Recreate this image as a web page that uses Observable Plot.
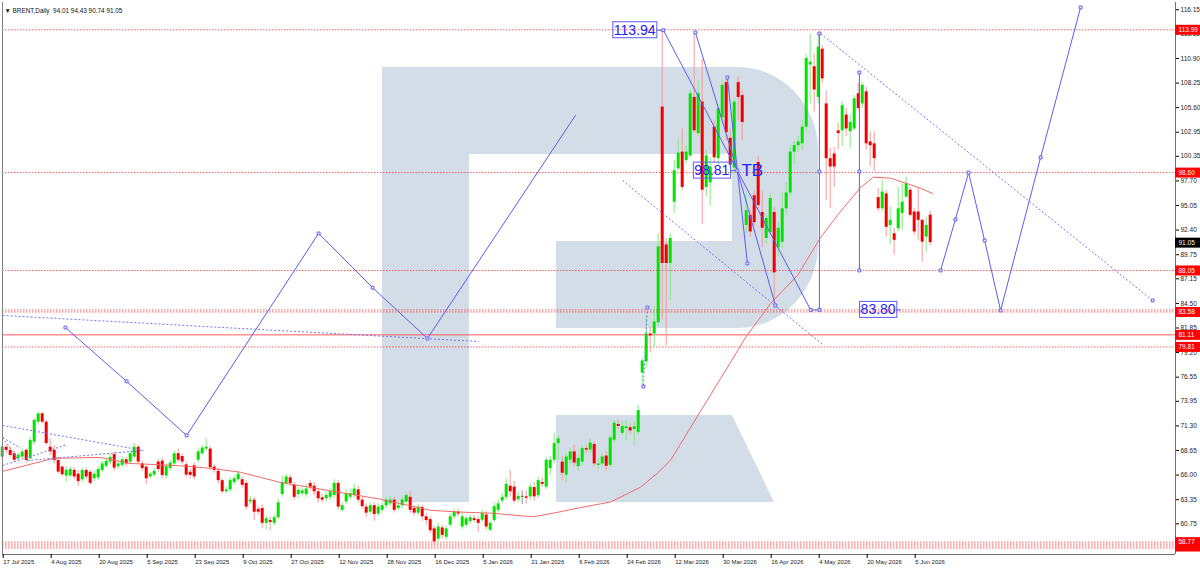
<!DOCTYPE html>
<html>
<head>
<meta charset="utf-8">
<script src="https://cdn.jsdelivr.net/npm/d3@7"></script>
<script src="https://cdn.jsdelivr.net/npm/@observablehq/plot@0.6"></script>
<style>
  body { margin: 0; background: #fff; }
  #chart { width: 1200px; height: 569px; }
</style>
</head>
<body>
<div id="chart"></div>
<script>
// daily bars, index 0 = 17 Jul 2025 ; [open, high, low, close]
const candles = [
  // Jul - Oct 2025
  [67.94,69.3,67.6,69.02],[69.0,69.2,68.3,68.66],[68.66,69.0,67.9,68.12],[68.3,68.6,67.3,67.6],
  [67.76,68.4,67.5,68.12],[67.94,68.8,67.7,68.48],[68.66,68.9,67.3,67.58],[67.76,70.0,67.5,69.73],
  [69.55,72.1,69.2,71.89],[71.7,72.8,71.4,72.6],[72.6,72.8,71.5,71.7],[71.7,71.9,69.2,69.4],
  [69.0,69.9,68.1,68.5],[68.66,69.2,67.2,67.58],[67.58,67.9,66.1,66.32],[66.86,67.0,65.8,66.04],
  [65.9,66.9,65.2,66.5],[65.9,66.9,65.7,66.6],[66.5,66.8,65.5,65.8],[66.1,66.5,64.8,65.3],
  [65.5,66.8,65.2,66.5],[66.5,66.8,65.5,65.8],[66.3,66.5,64.9,65.1],[65.6,66.4,65.3,66.1],
  [65.7,66.9,65.4,66.6],[66.5,67.5,66.2,67.2],[66.95,67.8,66.7,67.5],[67.4,68.3,67.1,67.9],
  [68.2,68.5,66.4,66.75],[66.9,67.5,66.6,67.2],[67.05,68.0,66.8,67.65],[67.65,67.9,66.9,67.2],
  [67.4,68.6,67.1,68.3],[67.94,69.4,67.8,69.0],[69.0,69.2,67.2,67.4],[67.2,67.5,66.4,66.7],
  [66.86,67.0,65.0,65.6],[65.8,66.3,65.6,66.1],[66.0,66.7,65.8,66.4],[67.4,67.7,66.3,66.6],
  [67.5,67.8,65.6,65.96],[65.9,67.2,65.6,66.9],[66.7,67.6,66.4,67.3],[67.2,68.6,67.0,68.3],
  [68.3,68.8,67.3,67.6],[68.0,68.3,67.1,67.4],[67.1,67.4,65.7,66.0],[66.3,66.6,65.6,65.96],
  [67.0,67.3,65.5,65.8],[67.6,68.8,67.3,68.5],[68.3,69.2,68.1,68.9],[68.8,69.9,68.6,69.0],
  [68.8,69.1,66.5,66.8],[66.86,67.1,66.2,66.5],[66.4,66.7,65.0,65.4],[65.4,65.6,64.0,64.2],
  [64.2,64.7,64.0,64.4],[64.4,65.7,64.2,65.4],[65.2,65.9,64.9,65.6],[65.5,66.4,65.3,66.1],
  // Oct - Dec 2025
  [65.5,65.8,64.6,64.9],[65.1,65.4,62.2,62.55],[63.1,63.7,62.8,63.3],[63.3,63.6,61.1,62.0],
  [62.3,62.6,61.7,62.0],[62.4,62.8,60.2,60.8],[60.8,61.6,60.1,61.3],[61.1,61.5,60.0,60.9],
  [60.8,61.7,60.5,61.4],[61.4,63.4,61.2,63.0],[63.9,65.9,63.6,65.2],[65.1,66.1,64.9,65.8],
  [65.7,66.0,64.8,65.1],[64.9,65.2,63.3,63.6],[63.9,64.7,63.5,64.35],[64.0,64.6,63.7,64.3],
  [63.9,65.0,63.6,64.5],[65.1,65.4,64.3,64.7],[64.8,65.2,63.8,64.2],[64.2,64.5,63.0,63.45],
  [63.55,63.9,63.0,63.3],[63.45,64.1,63.1,63.8],[63.6,64.5,63.3,64.2],[63.8,65.5,63.5,65.1],
  [65.1,65.4,62.2,62.55],[62.2,63.0,62.0,62.7],[63.1,64.4,62.8,64.0],[63.6,64.5,63.3,64.0],
  [63.8,65.0,63.5,64.5],[64.4,64.8,63.0,63.3],[63.3,63.6,62.3,62.6],[62.55,62.9,61.4,61.9],
  [62.0,63.0,61.7,62.7],[62.7,63.0,61.0,61.75],[61.8,62.9,61.5,62.55],[62.2,63.0,61.9,62.7],
  [62.7,63.6,62.4,63.3],[62.9,63.7,62.6,63.3],[63.3,63.6,61.9,62.2],[62.4,63.0,62.1,62.7],
  [62.7,63.6,62.4,63.3],[63.1,64.1,62.9,63.8],[63.6,64.2,61.9,62.2],[62.4,62.7,61.6,61.9],
  [61.9,62.9,61.6,62.55],[62.5,62.8,61.0,61.5],[61.5,61.8,60.6,61.1],[61.2,61.5,59.7,60.0],
  [60.2,60.5,58.5,58.8],[59.1,60.8,58.8,60.4],[60.3,60.6,59.1,59.5],[59.3,60.5,59.0,60.2],
  [60.6,61.8,60.3,61.5],[61.5,62.3,61.2,62.0],[62.0,62.3,61.5,61.8],[60.4,62.0,60.1,61.5],
  [60.6,61.6,60.3,61.3],[61.0,61.7,60.7,61.4],[61.3,61.6,60.9,61.1],[61.2,61.5,59.8,60.8],
  // Jan - Feb 2026
  [61.13,62.2,60.9,61.85],[61.7,62.1,60.1,60.4],[60.05,61.0,59.9,60.8],[61.1,63.0,60.9,62.6],
  [62.2,63.3,61.9,62.9],[63.2,64.0,62.9,63.6],[63.6,65.6,63.3,65.0],[64.8,66.5,63.6,64.2],
  [64.7,65.3,62.9,63.2],[63.35,64.2,63.0,63.7],[63.6,64.3,62.8,63.6],[63.65,64.3,62.9,63.5],
  [63.65,65.0,63.3,64.7],[64.65,65.2,63.2,63.65],[63.8,65.8,63.5,65.4],[65.2,65.7,64.7,65.0],
  [64.7,67.9,64.4,67.6],[66.7,68.0,66.0,67.6],[67.6,70.5,67.2,69.4],[69.4,70.2,67.6,69.9],
  [67.4,68.0,65.4,66.2],[66.0,68.3,65.1,67.95],[67.6,68.9,67.2,68.5],[68.5,69.2,66.9,67.3],
  [66.9,68.2,66.4,67.8],[67.4,69.2,67.0,68.85],[68.85,69.2,68.3,68.7],[68.7,69.9,68.3,69.45],
  [69.3,69.6,66.9,67.2],[67.05,67.8,66.6,67.2],[67.2,68.3,66.9,67.95],[68.05,68.5,66.4,66.95],
  [67.05,70.3,66.8,70.0],[69.75,71.9,69.4,71.6],[71.45,71.9,70.9,71.25],[70.5,71.8,70.2,71.25],
  [71.0,71.9,69.7,71.2],[71.1,71.5,70.3,70.75],[70.9,71.7,69.2,71.2],[70.6,73.5,70.3,72.95],
  [77.0,78.6,75.6,78.3],[78.2,83.2,77.5,81.2],[81.2,82.0,79.2,81.0],[81.2,84.2,79.7,82.5],
  // Mar - Jun 2026
  [82.4,92.0,82.0,90.6],[105.66,113.94,82.7,88.8],[90.8,91.5,79.9,88.8],[88.8,92.0,84.8,91.5],
  [95.4,99.9,94.2,98.8],[99.0,102.1,98.8,100.7],[100.8,103.3,96.7,97.0],[99.9,101.5,99.5,100.8],
  [100.4,107.5,100.2,107.1],[106.7,113.7,102.8,103.1],[102.8,108.5,102.5,107.1],[106.2,110.8,93.0,96.7],
  [97.0,101.0,96.0,100.4],[97.5,100.2,95.0,99.2],[103.5,104.2,99.6,100.2],[100.1,106.0,99.3,105.5],
  [104.5,108.5,103.8,108.0],[108.3,108.85,102.0,102.9],[102.3,103.3,99.0,99.4],[99.1,106.6,98.5,106.2],
  [108.3,108.9,104.2,106.7],[106.9,107.4,102.1,104.0],[92.9,96.3,92.0,94.5],[94.0,94.5,91.6,92.2],
  [96.1,96.6,92.8,93.2],[99.7,100.3,94.6,95.05],[94.3,96.7,90.5,92.6],[91.5,94.0,90.9,93.65],
  [92.15,96.3,91.8,95.8],[94.3,94.8,84.0,87.8],[90.5,93.2,89.5,92.6],[91.1,96.5,90.3,94.7],
  [94.7,97.5,94.0,96.4],[96.4,101.5,96.0,100.8],[100.8,102.0,99.5,101.5],[101.5,102.5,100.8,101.9],
  [101.7,104.2,101.0,103.5],[103.5,111.3,103.0,110.9],[110.2,113.5,106.0,110.5],[110.0,111.4,105.1,107.5],
  [106.7,113.55,106.0,112.1],[111.9,112.3,108.2,108.7],[106.0,107.4,95.6,100.1],[100.1,101.2,94.7,99.2],
  [100.6,101.3,97.0,99.2],[103.1,103.9,101.0,102.8],[103.1,106.2,101.4,105.8],[104.8,105.5,102.5,103.3],
  [103.0,104.8,101.2,104.0],[103.3,106.9,103.1,106.55],[107.1,108.2,105.3,105.5],[106.0,108.35,105.5,108.0],
  [107.3,107.8,101.0,101.7],[101.9,103.0,99.2,101.5],[101.7,103.0,98.7,100.1],[95.9,96.9,94.35,94.7],
  [94.7,97.8,94.35,96.5],[96.3,96.7,91.65,92.7],[92.9,94.9,90.8,93.45],[92.0,92.55,89.7,91.3],
  [92.55,97.0,92.2,94.7],[94.2,97.4,92.4,95.4],[95.95,98.1,95.8,97.4],[96.7,97.0,93.8,94.0],
  [94.35,94.7,91.8,92.2],[94.35,97.0,91.3,93.45],[93.45,93.6,88.96,91.1],[91.65,93.8,90.0,92.9],
  [94.01,94.43,90.74,91.05]
];

// moving average: [bar, price]
const maLine = [
  [0.1,66.4],[12.8,67.8],[24.6,67.9],[32.1,67.25],[44.6,67.0],[52.8,66.7],[59.6,66.3],
  [69.6,65.2],[82.1,64.3],[94.6,63.4],[107.1,62.2],[115.3,62.0],[122.1,61.9],[132.8,61.5],
  [137.8,61.9],[144.6,62.5],[152.1,63.1],[159.6,64.7],[163.8,66.2],[167.1,67.6],[174.6,72.9],
  [179.6,76.4],[185.8,80.8],[192.1,84.5],[198.8,87.5],[204.6,91.6],[208.8,94.0],[214.6,97.0],
  [217.8,98.1],[222.1,98.0],[226.3,97.4],[229.6,96.9],[232.6,96.35]
];

const priceTicks = [116.15,113.55,110.90,108.25,105.60,102.95,100.35,97.70,95.05,92.40,89.75,
  87.15,84.50,81.85,79.20,76.55,73.95,71.30,68.65,66.00,63.35,60.75];
const dateTicks = [0,12,24,36,48,60,72,84,96,108,120,132,144,156,168,180,192,204,216,228];
const dateLabels = ["17 Jul 2025","4 Aug 2025","20 Aug 2025","5 Sep 2025","23 Sep 2025","9 Oct 2025",
  "27 Oct 2025","12 Nov 2025","28 Nov 2025","16 Dec 2025","5 Jan 2026","21 Jan 2026","6 Feb 2026",
  "24 Feb 2026","12 Mar 2026","30 Mar 2026","16 Apr 2026","4 May 2026","20 May 2026","5 Jun 2026"];

// horizontal levels
const dottedLevels = [113.99,98.60,88.05,83.80,83.58,79.81,58.77,58.56,58.35,58.14];
const solidLevels = [81.11];
const levelTags = [113.99,98.60,88.05,83.58,81.11,79.81,58.77];
const hiddenTags = [58.30];
const lastPrice = 91.05;

// analysis drawings: [bar, price]
const zigzagLeft = [[15.8,81.9],[31.1,76.1],[46.1,70.27],[79.1,92.04],[92.6,86.2],[106.3,80.72],[143.3,104.76]];
const zigzagRight = [[234.6,88.05],[238.3,93.55],[241.6,98.60],[245.6,91.28],[249.6,83.74],[259.6,100.23],[269.6,116.4]];
const fanLines = [
  [[165.3,113.94],[183.8,98.81],[202.1,83.80],[204.3,83.80]],
  [[173.3,113.70],[183.8,98.81],[193.3,84.28]],
  [[181.3,108.85],[183.8,98.81],[186.3,88.80]],
  [[204.3,113.59],[204.3,83.74]],
  [[214.3,109.39],[214.3,88.05]],
  [[163.6,113.94],[165.3,113.94]],
  [[182.1,98.81],[183.8,98.81]],
  [[223.5,83.80],[224.5,83.80]]
];
// dotted trend lines: [bar1, price1, bar2, price2]
const dottedLines = [
  [0.1,83.2,119.1,80.4],
  [155.1,97.75,205.1,80.07],
  [204.6,113.59,287.6,84.82],
  [161.3,84.06,160.3,75.55],
  [0.1,71.35,35.3,68.65],
  [0.1,70.05,4.1,67.57],
  [0.1,70.05,4.6,68.9],
  [0.1,67.03,16.3,69.3],
  [6.3,67.57,35.3,68.65]
];
const markers = [
  ...zigzagLeft.slice(0, 6), ...zigzagRight,
  [165.3,113.94],[173.3,113.70],[181.3,108.85],[183.8,98.81],[186.3,88.80],[193.3,84.28],
  [202.1,83.80],[204.3,83.80],[204.3,98.72],[204.3,113.59],[214.3,109.39],[214.3,98.72],
  [214.3,88.05],[161.3,84.06],[160.3,75.55],[287.6,84.82]
];
const tagsLeft = [{x: 163.35, y: 113.94, text: "113.94"}, {x: 181.8, y: 98.81, text: "98.81"}];
const tagsRight = [{x: 214.6, y: 83.80, text: "83.80"}];
const tbLabel = [{x: 184.8, y: 98.81, text: "TB"}];

const xStart = 0.075, xEnd = 293.325;
const yMin = 57.44, yMax = 116.93;
const blue = "#5c5cf0";
const textBlue = "#2222f2";
const isFlat = d => Math.abs(d[3] - d[0]) < 0.08;
const bodyColor = d => isFlat(d) ? "#707070" : d[3] > d[0] ? "#00e400" : "#f20000";
const wickColor = d => isFlat(d) ? "#909090" : d[3] > d[0] ? "#86e886" : "#f59a9a";
const fontFamily = "'Liberation Sans', Arial, sans-serif";

const chart = Plot.plot({
  width: 1200,
  height: 569,
  marginLeft: 2,
  marginRight: 25,
  marginTop: 2,
  marginBottom: 15,
  style: {background: "white", fontFamily: fontFamily, fontSize: "6.5px", overflow: "visible"},
  x: {domain: [xStart, xEnd], axis: null},
  y: {domain: [yMin, yMax], axis: null},
  color: {type: "identity"},
  marks: [
    Plot.ruleY(dottedLevels, {stroke: "#ff2020", strokeDasharray: "1.5,1.5", strokeOpacity: 0.7}),
    Plot.ruleY(solidLevels, {stroke: "#ff5a5a"}),
    Plot.ruleX(candles, {x: (d, i) => i, y1: d => d[2], y2: d => d[1], stroke: wickColor, strokeWidth: 1}),
    Plot.ruleX(candles, {
      x: (d, i) => i,
      y1: d => d[0],
      y2: d => isFlat(d) ? d[0] + 0.12 : d[3],
      stroke: bodyColor,
      strokeWidth: 3
    }),
    Plot.line(maLine, {x: d => d[0], y: d => d[1], stroke: "#f46a6a", strokeWidth: 1}),
    Plot.link(dottedLines, {x1: d => d[0], y1: d => d[1], x2: d => d[2], y2: d => d[3],
      stroke: "#7474f2", strokeWidth: 1, strokeDasharray: "2,2"}),
    Plot.line(zigzagLeft, {x: d => d[0], y: d => d[1], stroke: blue, strokeWidth: 1}),
    Plot.line(zigzagRight, {x: d => d[0], y: d => d[1], stroke: blue, strokeWidth: 1}),
    ...fanLines.map(seg => Plot.line(seg, {x: d => d[0], y: d => d[1], stroke: blue, strokeWidth: 1})),
    Plot.dot(markers, {x: d => d[0], y: d => d[1], symbol: "square", r: 1.6, stroke: blue, fill: "white", strokeWidth: 1}),
    Plot.text(tagsLeft, {x: "x", y: "y", text: "text", textAnchor: "end", fill: textBlue,
      fontSize: 14, ariaDescription: "boxed-tag"}),
    Plot.text(tagsRight, {x: "x", y: "y", text: "text", textAnchor: "start", fill: textBlue,
      fontSize: 14, ariaDescription: "boxed-tag"}),
    Plot.text(tbLabel, {x: "x", y: "y", text: "text", textAnchor: "start", fill: textBlue, fontSize: 17}),
    // frame
    Plot.ruleX([xStart], {stroke: "#808080"}),
    Plot.ruleX([xEnd], {stroke: "#707070"}),
    Plot.ruleY([yMin], {stroke: "#707070"}),
    Plot.axisY(priceTicks, {anchor: "right", tickFormat: d => d.toFixed(2), tickSize: 3, tickPadding: 2,
      fontSize: 6.5, label: null, fill: "#222"}),
    Plot.axisX(dateTicks, {anchor: "bottom", tickFormat: d => dateLabels[dateTicks.indexOf(d)], tickSize: 4,
      tickPadding: 1, textAnchor: "start", dx: 1, fontSize: 6, label: null, fill: "#222"}),
    // price tags on the axis
    Plot.ruleY(hiddenTags, {x1: xEnd, x2: xEnd + 6.25, stroke: "#ff0000", strokeWidth: 10}),
    Plot.ruleY(levelTags, {x1: xEnd, x2: xEnd + 6.25, stroke: "#ff0000", strokeWidth: 10}),
    Plot.text(levelTags, {x: xEnd, y: d => d, dx: 3, text: d => d.toFixed(2), textAnchor: "start",
      fill: "white", fontSize: 6.5}),
    Plot.ruleY([lastPrice], {x1: xEnd, x2: xEnd + 6.25, stroke: "#000", strokeWidth: 10}),
    Plot.text([lastPrice], {x: xEnd, y: d => d, dx: 3, text: d => d.toFixed(2), textAnchor: "start",
      fill: "white", fontSize: 6.5}),
    Plot.text(["\u25BC BRENT,Daily\u00a0\u00a094.01 94.43 90.74 91.05"], {frameAnchor: "top-left", text: d => d,
      dx: 2, dy: 6, textAnchor: "start", fontSize: 6.4, fill: "#111"})
  ]
});

document.getElementById("chart").appendChild(chart);

// watermark logo behind everything
const ns = "http://www.w3.org/2000/svg";
const logo = document.createElementNS(ns, "path");
logo.setAttribute("d", "M382,67H737A81,83 0 0 1 818,150V245A81,83 0 0 1 737,328H556V241H732V154H469V502H382Z M556,415H732L774,502H556Z");
logo.setAttribute("fill", "#d3dde8");
const styleEl = chart.querySelector("style");
chart.insertBefore(logo, styleEl ? styleEl.nextSibling : chart.firstChild);

// outline boxes around the price tags
d3.select(chart).selectAll('g[aria-description="boxed-tag"] text').each(function() {
  const b = this.getBBox();
  const r = document.createElementNS(ns, "rect");
  r.setAttribute("x", b.x - 1);
  r.setAttribute("y", b.y);
  r.setAttribute("width", b.width + 2);
  r.setAttribute("height", b.height);
  r.setAttribute("fill", "none");
  r.setAttribute("stroke", blue);
  const t = this.getAttribute("transform");
  if (t) r.setAttribute("transform", t);
  this.parentNode.insertBefore(r, this);
});
</script>
</body>
</html>
